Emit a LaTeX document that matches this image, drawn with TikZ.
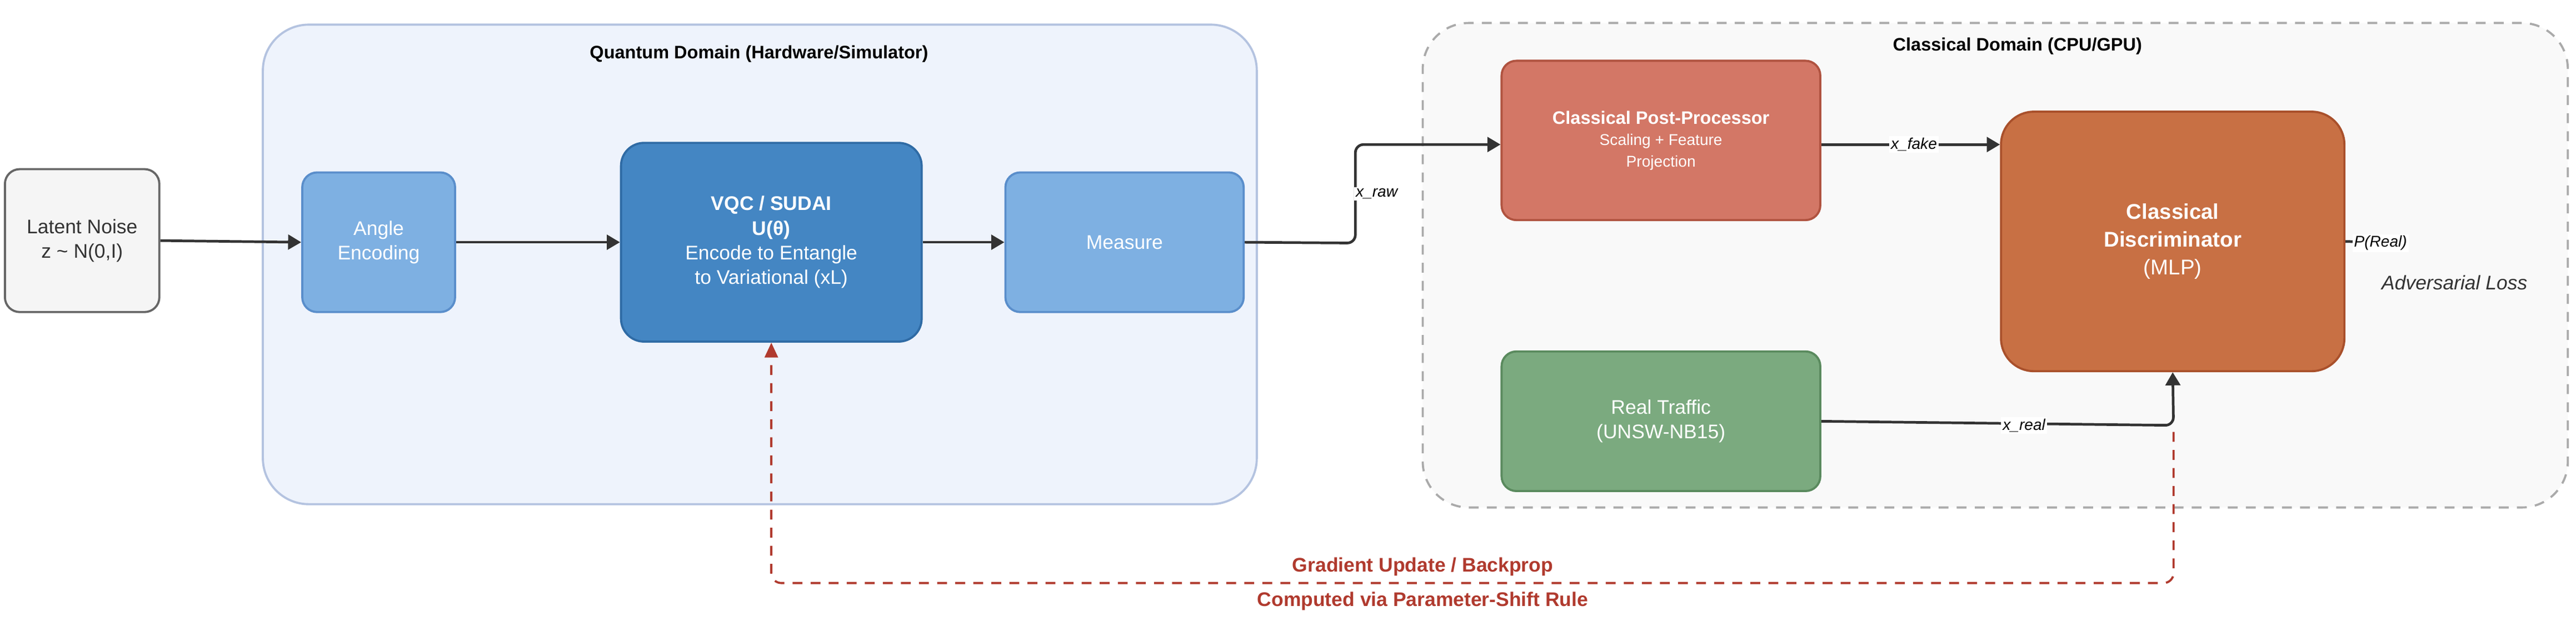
\documentclass[tikz,border=0pt]{standalone}
\usepackage{fontspec}
\setmainfont{Liberation Sans}
\usetikzlibrary{arrows.meta}
\definecolor{qfill}{HTML}{EEF3FC}\definecolor{qdraw}{HTML}{B4C3E0}
\definecolor{lfill}{HTML}{F5F5F5}\definecolor{ldraw}{HTML}{666666}
\definecolor{afill}{HTML}{7EB0E2}\definecolor{adraw}{HTML}{5A8ECB}
\definecolor{vfill}{HTML}{4486C3}\definecolor{vdraw}{HTML}{2F6BA5}
\definecolor{pfill}{HTML}{D37766}\definecolor{pdraw}{HTML}{B05340}
\definecolor{dfill}{HTML}{C87044}\definecolor{ddraw}{HTML}{A9502B}
\definecolor{rfill}{HTML}{7BAA7F}\definecolor{rdraw}{HTML}{5A8A5E}
\definecolor{cfill}{HTML}{F9F9F9}\definecolor{cdraw}{HTML}{AAAAAA}
\definecolor{gred}{HTML}{B03A2E}\definecolor{arr}{HTML}{333333}
\begin{document}
\begin{tikzpicture}[x=1pt,y=-1pt,
 box/.style={draw,line width=1.3pt,rounded corners=9pt,align=center,text=white,font=\fontsize{12}{15}\selectfont},
 flow/.style={draw=arr,line width=1.6pt,-{Triangle[length=8pt,width=9pt]},rounded corners=5pt},
 lab/.style={fill=white,inner sep=1pt,font=\itshape\fontsize{9.5}{11}\selectfont}]
\useasboundingbox (0,0) rectangle (1568,381);
\node[draw=qdraw,fill=qfill,line width=1.3pt,rounded corners=28pt,minimum width=605pt,minimum height=292pt] (qd) at (462.5,161) {};
\node[font=\bfseries\fontsize{11}{13}\selectfont] (qt) at (462,33) {Quantum Domain (Hardware/Simulator)};
\node[draw=cdraw,fill=cfill,line width=1.3pt,dash pattern=on 6pt off 5pt,rounded corners=28pt,minimum width=697pt,minimum height=295pt] (cd) at (1214.5,161.5) {};
\node[font=\bfseries\fontsize{11}{13}\selectfont] (ct) at (1228,28) {Classical Domain (CPU/GPU)};
\node[box,draw=ldraw,fill=lfill,text=black!80,minimum width=94pt,minimum height=87pt] (lat) at (50,146.5) {Latent Noise\\z \textasciitilde{} N(0,I)};
\node[box,draw=adraw,fill=afill,minimum width=93pt,minimum height=85pt] (ang) at (230.5,147.5) {Angle\\Encoding};
\node[box,draw=vdraw,fill=vfill,minimum width=183pt,minimum height=121pt,rounded corners=14pt] (vqc) at (469.5,147.5) {\textbf{VQC / SUDAI}\\\textbf{U(θ)}\\Encode to Entangle\\to Variational (xL)};
\node[box,draw=adraw,fill=afill,minimum width=145pt,minimum height=85pt] (mea) at (684.5,147.5) {Measure};
\node[box,draw=pdraw,fill=pfill,minimum width=194pt,minimum height=97pt,font=\fontsize{9.5}{13}\selectfont] (pp) at (1011,85.5) {\textbf{\fontsize{11}{14}\selectfont Classical Post-Processor}\\Scaling + Feature\\Projection};
\node[box,draw=ddraw,fill=dfill,minimum width=209pt,minimum height=158pt,rounded corners=20pt,font=\fontsize{13}{17}\selectfont] (dis) at (1322.5,147) {\textbf{Classical}\\\textbf{Discriminator}\\(MLP)};
\node[box,draw=rdraw,fill=rfill,minimum width=194pt,minimum height=85pt] (rt) at (1011,256.5) {Real Traffic\\(UNSW-NB15)};
\draw[flow] (lat.east) -- (ang.west);
\draw[flow] (ang.east) -- (vqc.west);
\draw[flow] (vqc.east) -- (mea.west);
\draw[flow] (mea.east) -- (825,148) -- (825,88) -- (pp.west |- 0,88);
\node[lab] (xr) at (838,118) {x\_raw};
\draw[flow] (pp.east |- 0,88) -- (dis.west |- 0,88);
\node[lab] (xf) at (1165,88) {x\_fake};
\draw[flow] (rt.east) -- (1323,259) -- (dis.south);
\node[lab] (xre) at (1232,259) {x\_real};
\coordinate (pe) at (1465,148);
\draw[draw=arr,line width=1.6pt] (dis.east) -- (pe);
\node[lab] (pr) at (1449,148) {P(Real)};
\node[font=\itshape\fontsize{12}{14}\selectfont,text=black!80] (al) at (1494,172) {Adversarial Loss};
\draw[draw=gred,line width=1.3pt,dash pattern=on 6pt off 5pt,rounded corners=6pt,-{Triangle[length=9pt,width=8pt]}] (1323,263) -- (1323,355) -- (469.5,355) -- (vqc.south);
\node[text=gred,font=\bfseries\fontsize{12}{14}\selectfont] (g1) at (866,345) {Gradient Update / Backprop};
\node[text=gred,font=\bfseries\fontsize{12}{14}\selectfont] (g2) at (866,366) {Computed via Parameter-Shift Rule};
\end{tikzpicture}
\end{document}
